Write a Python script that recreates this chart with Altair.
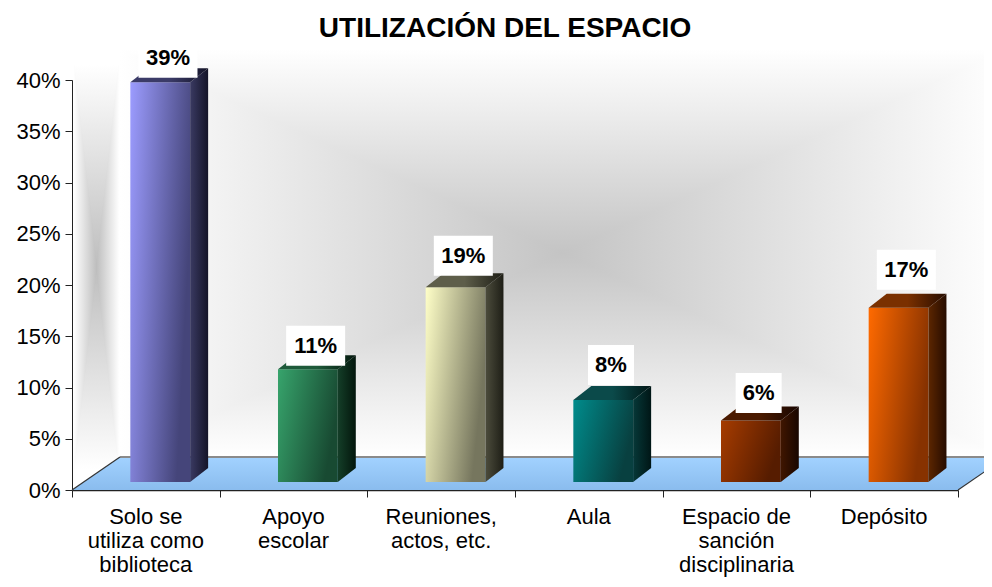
import altair as alt
import pandas as pd

# ---------------- data ----------------
categories = [
    "Solo se utiliza como biblioteca",
    "Apoyo escolar",
    "Reuniones, actos, etc.",
    "Aula",
    "Espacio de sanción disciplinaria",
    "Depósito",
]
category_lines = [
    ["Solo se", "utiliza como", "biblioteca"],
    ["Apoyo", "escolar"],
    ["Reuniones,", "actos, etc."],
    ["Aula"],
    ["Espacio de", "sanción", "disciplinaria"],
    ["Depósito"],
]
values = [39, 11, 19, 8, 6, 17]
value_labels = ["39%", "11%", "19%", "8%", "6%", "17%"]
y_ticks = [0, 5, 10, 15, 20, 25, 30, 35, 40]
title_text = "UTILIZACIÓN DEL ESPACIO"

# ---------------- style ----------------
FONT = "Liberation Sans"
W, H = 886, 410
XMAX, YMAX = len(categories), 40
PX_X = XMAX / W
PX_Y = YMAX / H

BASE = 8 * PX_Y            # lift of bar bottoms above floor front edge
FRONT_L, FRONT_R = 0.395, 0.80
DX, DY = 18 * PX_X, 14 * PX_Y      # bar depth
FDX, FDY = 48 * PX_X, 33 * PX_Y    # floor depth
WALL_TOP = 43
LABEL_RAISE = [24.5, 23.5, 31.5, 35, 27.5, 38]   # px, label centre above bar front top

palette = [
    # front light, front dark, side light, side dark, top
    ("#9c9cff", "#45457a", "#3a3a62", "#141428", "#3b3b68"),
    ("#37a46c", "#184a32", "#143e28", "#03160c", "#1e5a3a"),
    ("#ffffc8", "#76765e", "#4c4c3c", "#1e1e16", "#5e5e4a"),
    ("#008c8c", "#084040", "#063838", "#001616", "#0b4a4a"),
    ("#a63c00", "#561c00", "#401600", "#180600", "#4a1a00"),
    ("#ff6a00", "#873200", "#5c2600", "#260c00", "#7a3000"),
]

xs = alt.Scale(domain=[0, XMAX], nice=False, zero=False)
ys = alt.Scale(domain=[0, YMAX], nice=False, zero=False)

x_axis = alt.Axis(values=list(range(XMAX + 1)), labels=False, tickSize=7, grid=False,
                  title=None, domainColor="#222222", tickColor="#222222", domainWidth=1.5)
y_axis = alt.Axis(values=y_ticks, labelExpr="datum.value + '%'", tickSize=7, grid=False,
                  title=None, labelFont=FONT, labelFontSize=22, labelColor="black",
                  labelPadding=5, domainColor="#222222", tickColor="#222222")


def X(f):
    return alt.X(f, type="quantitative", scale=xs, axis=x_axis)


def Y(f):
    return alt.Y(f, type="quantitative", scale=ys, axis=y_axis)


def lin(c1, c2, x1=0, y1=0, x2=1, y2=0, mid=None):
    stops = [alt.GradientStop(color=c1, offset=0)]
    if mid:
        stops.append(alt.GradientStop(color=mid, offset=0.5))
    stops.append(alt.GradientStop(color=c2, offset=1))
    return alt.LinearGradient(gradient="linear", stops=stops, x1=x1, y1=y1, x2=x2, y2=y2)


def tri(df, orient, grad, enc):
    return (alt.Chart(df)
            .mark_area(orient=orient, color=grad, fill=grad, stroke=grad, strokeWidth=1.2)
            .encode(**enc))


def rect_gradient(x0, x1, y0, y1, centre, edge):
    """Excel-like 'from centre' rectangular gradient built from four triangles."""
    cx, cy = (x0 + x1) / 2, (y0 + y1) / 2
    out = []
    d = pd.DataFrame({"x": [x0, cx, x1], "y": [y1, cy, y1], "y2": [y1, y1, y1]})
    out.append(tri(d, "vertical", lin(edge, centre, 0, 0, 0, 1),
                   dict(x=X("x"), y=Y("y"), y2="y2")))
    d = pd.DataFrame({"x": [x0, cx, x1], "y": [y0, cy, y0], "y2": [y0, y0, y0]})
    out.append(tri(d, "vertical", lin(centre, edge, 0, 0, 0, 1),
                   dict(x=X("x"), y=Y("y"), y2="y2")))
    d = pd.DataFrame({"y": [y0, cy, y1], "x": [x0, x0, x0], "x2": [x0, cx, x0]})
    out.append(tri(d, "horizontal", lin(edge, centre, 0, 0, 1, 0),
                   dict(y=Y("y"), x=X("x"), x2="x2")))
    d = pd.DataFrame({"y": [y0, cy, y1], "x": [x1, cx, x1], "x2": [x1, x1, x1]})
    out.append(tri(d, "horizontal", lin(centre, edge, 0, 0, 1, 0),
                   dict(y=Y("y"), x=X("x"), x2="x2")))
    return out


layers = []

# back wall and left wall
layers += rect_gradient(FDX, XMAX + FDX, FDY, WALL_TOP, "#c4c4c4", "#ffffff")
layers += rect_gradient(0.012, FDX - 0.005, 2.0, 41.5, "#bebebe", "#ffffff")

# floor
floor = pd.DataFrame({"x": [0, FDX, XMAX, XMAX + FDX],
                      "y": [0, 0, 0, FDY], "y2": [0, FDY, FDY, FDY]})
layers.append(alt.Chart(floor).mark_area(orient="vertical",
                                         color=lin("#a2d2ff", "#8abcee", 0, 0, 0, 1))
              .encode(x=X("x"), y=Y("y"), y2="y2"))
back_edge = pd.DataFrame({"x": [FDX], "x2": [XMAX + FDX], "y": [FDY], "y2": [FDY]})
layers.append(alt.Chart(back_edge).mark_rule(color="#8a8a8a", strokeWidth=2)
              .encode(x=X("x"), x2="x2", y=Y("y"), y2="y2"))
side_edges = pd.DataFrame({"x": [0, XMAX], "x2": [FDX, XMAX + FDX], "y": [0, 0], "y2": [FDY, FDY]})
layers.append(alt.Chart(side_edges).mark_rule(color="#333333", strokeWidth=1.2)
              .encode(x=X("x"), x2="x2", y=Y("y"), y2="y2"))

# 3-D bars
for i, v in enumerate(values):
    fl, fd, sl, sd, tp = palette[i]
    xl, xr = i + FRONT_L, i + FRONT_R
    front = pd.DataFrame({"x": [xl], "x2": [xr], "y": [BASE], "y2": [v + BASE]})
    layers.append(alt.Chart(front).mark_rect(color=lin(fl, fd, 0, 0, 1, 0.35))
                  .encode(x=X("x"), x2="x2", y=Y("y"), y2="y2"))
    side = pd.DataFrame({"x": [xr, xr + DX], "y": [BASE, BASE + DY],
                         "y2": [v + BASE, v + BASE + DY]})
    layers.append(alt.Chart(side).mark_area(orient="vertical", color=lin(sl, sd))
                  .encode(x=X("x"), y=Y("y"), y2="y2"))
    top = pd.DataFrame({"y": [v + BASE, v + BASE + DY], "x": [xl, xl + DX],
                        "x2": [xr, xr + DX]})
    layers.append(alt.Chart(top).mark_area(orient="horizontal", color=lin(tp, sd, mid=tp))
                  .encode(y=Y("y"), x=X("x"), x2="x2"))

# value labels with white boxes
lab = pd.DataFrame({
    "cx": [i + 0.65 for i in range(len(values))],
    "cy": [v + BASE + r * PX_Y for v, r in zip(values, LABEL_RAISE)],
    "text": value_labels,
})
lab["hw"] = [(13 * len(t) + 20) / 2 * PX_X for t in value_labels]
lab["bx"] = lab["cx"] - lab["hw"]
lab["bx2"] = lab["cx"] + lab["hw"]
lab["by"] = lab["cy"] - 20 * PX_Y
lab["by2"] = lab["cy"] + 20 * PX_Y
layers.append(alt.Chart(lab).mark_rect(color="white")
              .encode(x=X("bx"), x2="bx2", y=Y("by"), y2="by2"))
layers.append(alt.Chart(lab).mark_text(font=FONT, fontSize=22, fontWeight="bold",
                                       baseline="middle", align="center", color="black")
              .encode(x=X("cx"), y=Y("cy"), text="text:N"))

# category labels
cat = pd.DataFrame({"x": [i + 0.5 for i in range(len(categories))],
                    "y": [0] * len(categories),
                    "text": ["\n".join(l) for l in category_lines]})
layers.append(alt.Chart(cat).mark_text(font=FONT, fontSize=22, baseline="top", align="center",
                                       dy=17, lineHeight=24, lineBreak="\n", color="black")
              .encode(x=X("x"), y=Y("y"), text="text:N"))

chart = alt.layer(*layers).properties(
    width=W, height=H,
    autosize=alt.AutoSizeParams(type="none"),
    padding={"left": 64, "top": 72, "right": 26, "bottom": 89},
    title=alt.TitleParams(title_text, font=FONT, fontSize=28, fontWeight="bold",
                          anchor="middle", color="black", dx=-10, dy=9),
).configure_view(stroke=None).configure(background="white")

chart.save("out.html", embed_options={"renderer": "svg", "actions": False})
